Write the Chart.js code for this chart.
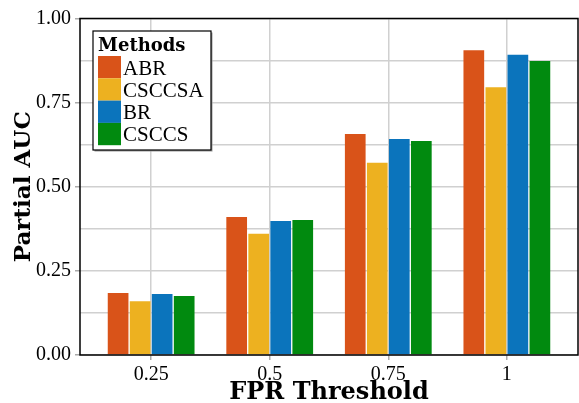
<!DOCTYPE html>
<html>
<head>
<meta charset="utf-8">
<script src="https://cdn.jsdelivr.net/npm/chart.js@4.4.0/dist/chart.umd.min.js"></script>
<style>
  html, body { margin: 0; padding: 0; background: #fff; }
  #wrap { width: 579px; height: 403px; }
</style>
</head>
<body>
<div id="wrap"><canvas id="chart" width="579" height="403"></canvas></div>
<script>
// data
const thresholds = ['0.25', '0.5', '0.75', '1'];
const methods = ['ABR', 'CSCCSA', 'BR', 'CSCCS'];
const abr    = [0.184, 0.410, 0.657, 0.906];
const csccsa = [0.160, 0.360, 0.571, 0.796];
const br     = [0.181, 0.398, 0.642, 0.892];
const csccs  = [0.175, 0.401, 0.636, 0.874];
const colors = ['#D95319', '#EDB120', '#0B74BC', '#018A0F'];

const series = [abr, csccsa, br, csccs];
const serif = '"Liberation Serif", "Times New Roman", serif';
const boldSerif = '"DejaVu Serif", serif';

// legend box + frame drawn on top of the plot
const boxPlugin = {
    id: 'boxLegend',
    afterDraw(c) {
        const ctx = c.ctx;
        const a = c.chartArea;
        ctx.save();

        // legend
        const x0 = a.left + 13, y0 = a.top + 12.5, w = 118, h = 119;
        ctx.fillStyle = '#999';
        ctx.fillRect(x0 + 1.5, y0 + 1.5, w, h);
        ctx.fillStyle = '#fff';
        ctx.fillRect(x0, y0, w, h);
        ctx.strokeStyle = '#000';
        ctx.lineWidth = 1.2;
        ctx.strokeRect(x0, y0, w, h);

        ctx.fillStyle = '#000';
        ctx.textBaseline = 'alphabetic';
        ctx.font = 'bold 18px ' + boldSerif;
        ctx.fillText('Methods', x0 + 5, y0 + 19.5);

        ctx.font = '21px ' + serif;
        methods.forEach((m, i) => {
            const sy = y0 + 25 + i * 22.3;
            ctx.fillStyle = colors[i];
            ctx.fillRect(x0 + 5, sy, 23, 22.3);
            ctx.fillStyle = '#000';
            ctx.fillText(m, x0 + 30, sy + 18.5);
        });

        // frame
        ctx.strokeStyle = '#000';
        ctx.lineWidth = 1.5;
        ctx.strokeRect(a.left, a.top, a.right - a.left, a.bottom - a.top);
        ctx.restore();
    }
};

new Chart(document.getElementById('chart'), {
    type: 'bar',
    data: {
        datasets: methods.map((m, i) => ({
            label: m,
            data: series[i].map((v, j) => ({ x: j + 1, y: v })),
            backgroundColor: colors[i],
            borderWidth: 0,
            barPercentage: 0.94,
            categoryPercentage: 0.743
        }))
    },
    options: {
        responsive: false,
        animation: false,
        layout: { padding: { left: 0, right: 1, top: 18.5, bottom: 0 } },
        plugins: {
            legend: { display: false },
            tooltip: { enabled: false }
        },
        scales: {
            x: {
                type: 'linear',
                min: 0.4,
                max: 4.6,
                offset: false,
                afterBuildTicks: s => { s.ticks = thresholds.map((_, i) => ({ value: i + 1 })); },
                afterFit: s => { s.height = 48; },
                ticks: {
                    callback: v => thresholds[v - 1],
                    color: '#000',
                    font: { family: serif, size: 20 },
                    padding: 3,
                    maxRotation: 0
                },
                grid: { offset: false, color: '#d0d0d0', lineWidth: 1.5, tickLength: 5, tickColor: '#aaa' },
                border: { display: false },
                title: {
                    display: true,
                    text: 'FPR Threshold',
                    color: '#000',
                    font: { family: boldSerif, size: 24, weight: 'bold', lineHeight: 0.85 },
                    padding: { top: 0, bottom: 0 }
                }
            },
            y: {
                min: 0,
                max: 1,
                afterFit: s => { s.width = 80; },
                ticks: {
                    stepSize: 0.125,
                    callback: v => (Math.abs(v * 4 - Math.round(v * 4)) < 1e-6 ? v.toFixed(2) : ''),
                    color: '#000',
                    font: { family: serif, size: 20 },
                    padding: 4
                },
                grid: {
                    color: '#d0d0d0',
                    lineWidth: 1.5,
                    tickLength: 5,
                    tickColor: ctx => (Math.abs(ctx.tick.value * 4 - Math.round(ctx.tick.value * 4)) < 1e-6 ? '#aaa' : 'rgba(0,0,0,0)')
                },
                border: { display: false },
                title: {
                    display: true,
                    text: 'Partial AUC',
                    color: '#000',
                    font: { family: boldSerif, size: 23, weight: 'bold', lineHeight: 1 },
                    padding: { top: 13, bottom: 0 }
                }
            }
        }
    },
    plugins: [boxPlugin]
});
</script>
</body>
</html>
